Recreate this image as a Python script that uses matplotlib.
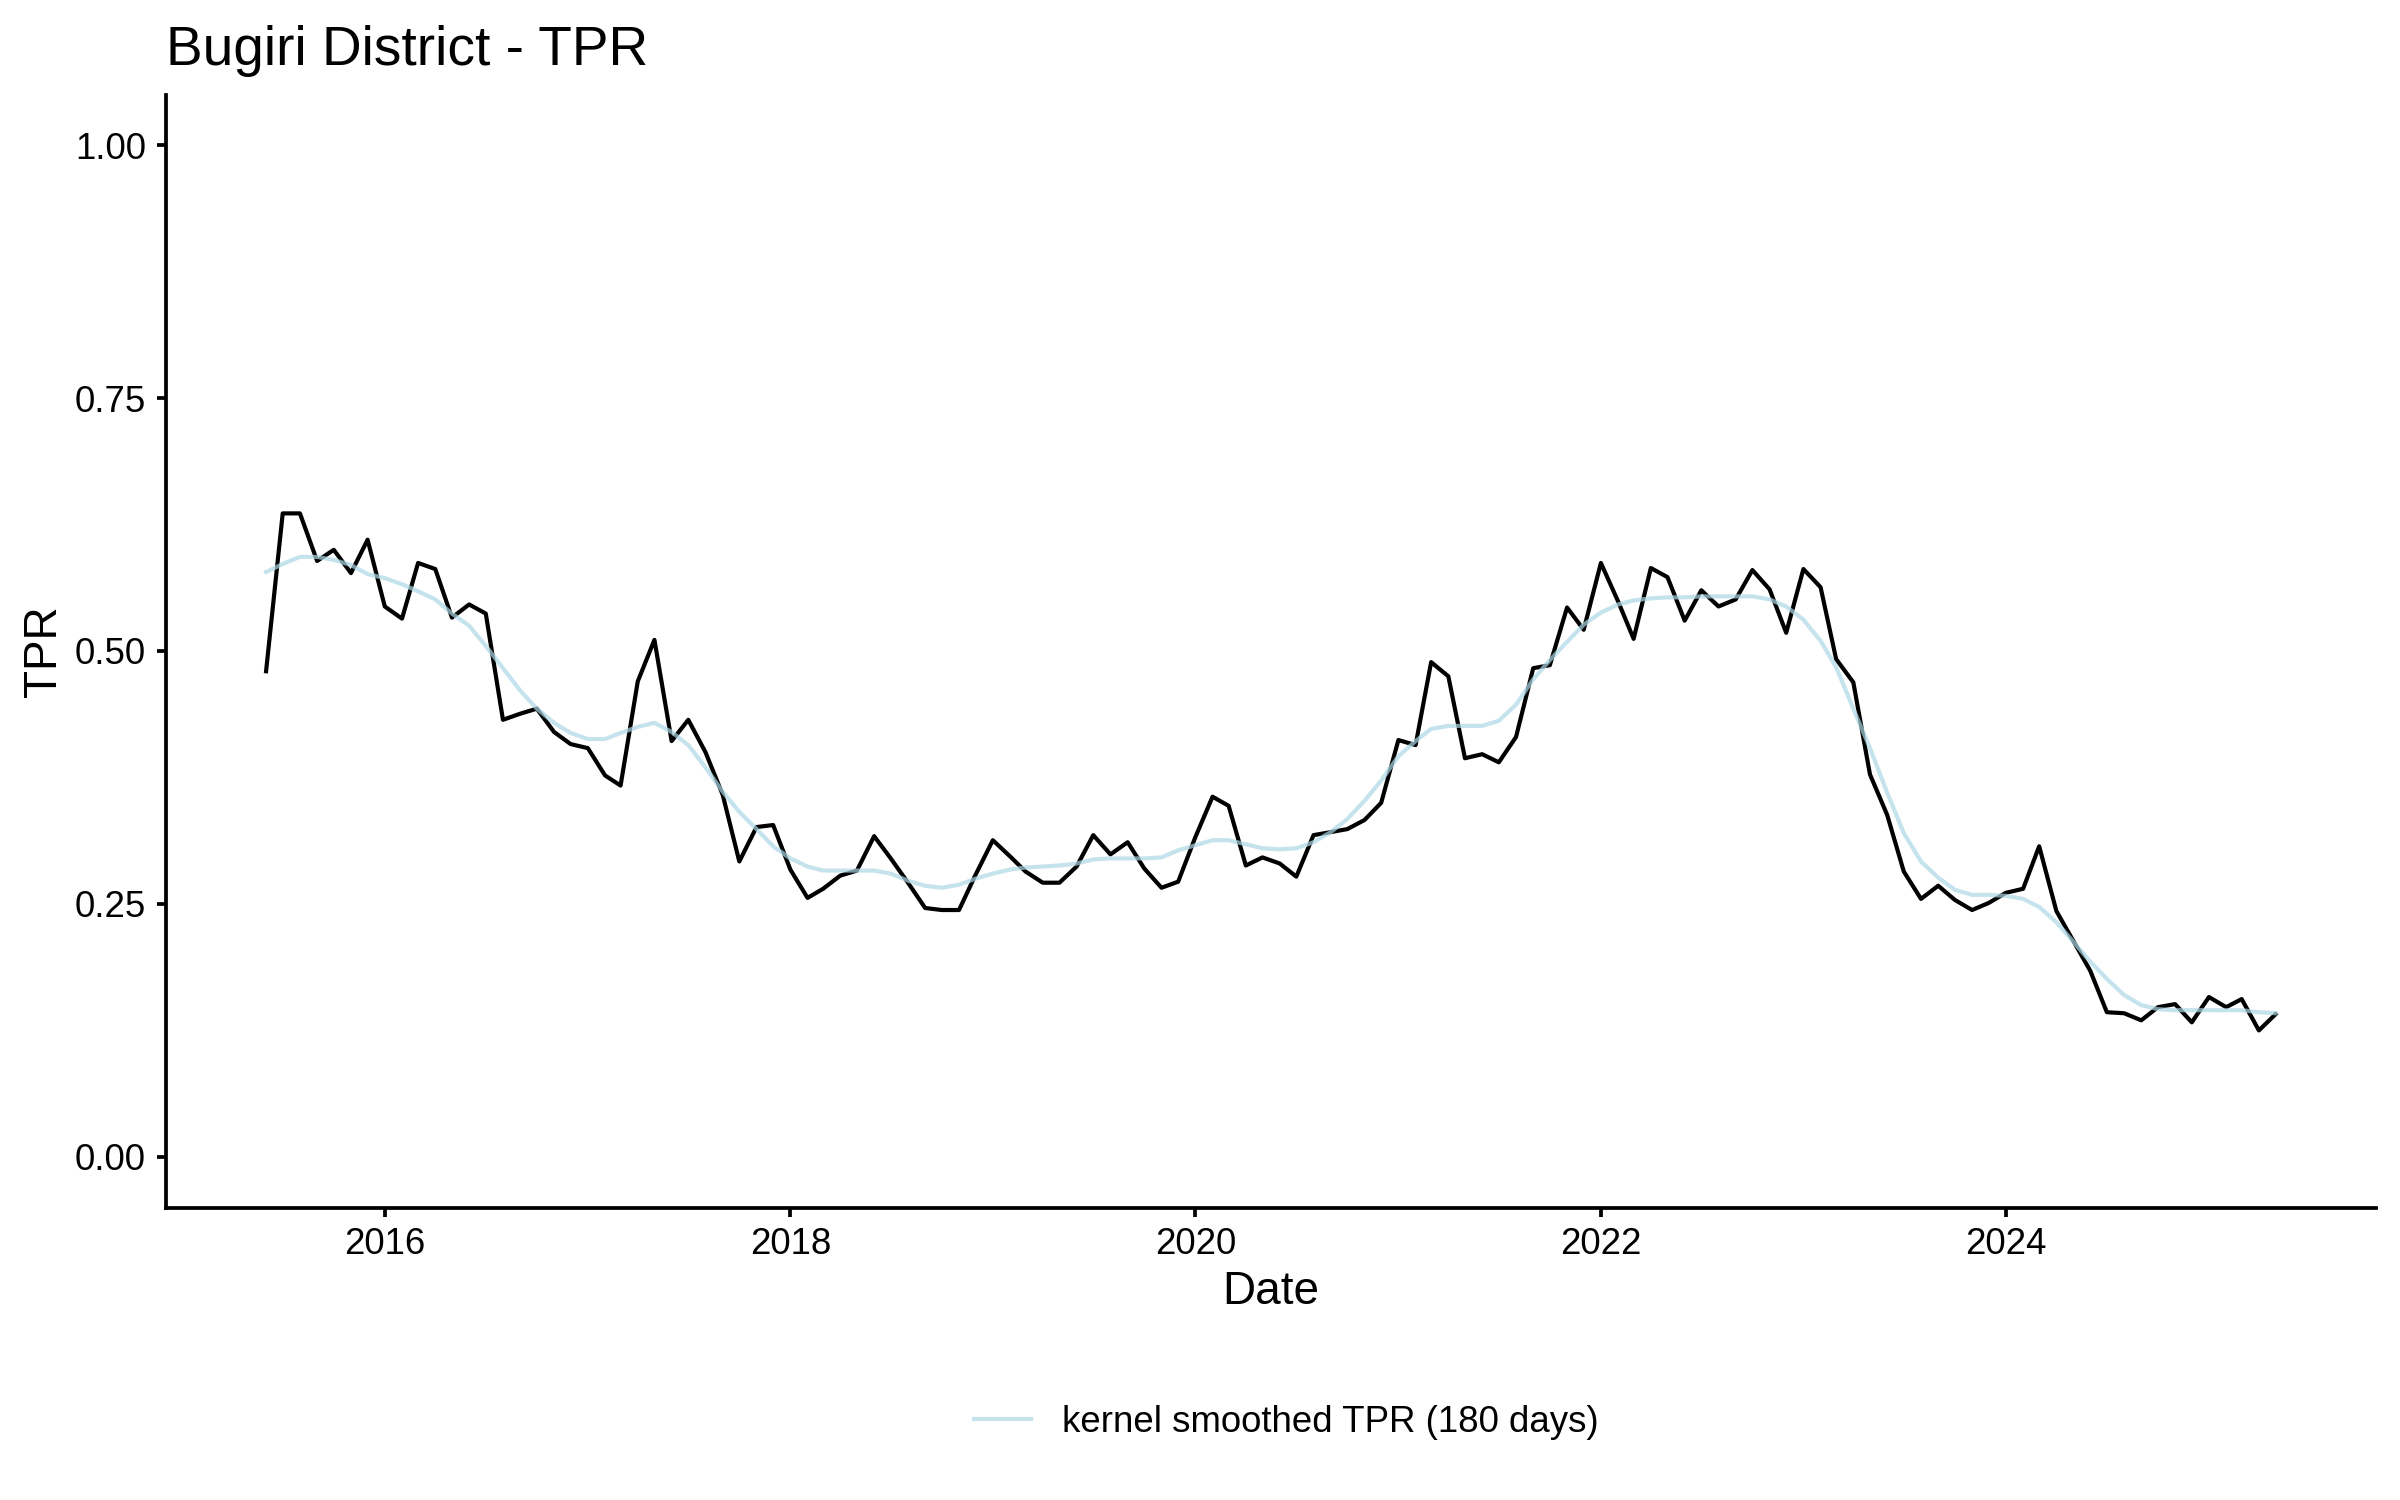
import pandas as pd
import matplotlib
matplotlib.use('Agg')
import matplotlib.pyplot as plt
import matplotlib.dates as mdates

plt.rcParams['font.family'] = ['Liberation Sans', 'DejaVu Sans']
plt.rcParams.update({'font.size': 8.8})

# monthly TPR, Jun 2015 .. May 2025
start_month = '2015-06-01'
tpr = [0.480, 0.636, 0.636, 0.589, 0.600, 0.577, 0.610, 0.544, 0.532, 0.587, 0.581, 0.533,
       0.546, 0.537, 0.432, 0.438, 0.443, 0.420, 0.408, 0.404, 0.377, 0.367, 0.470, 0.511,
       0.411, 0.432, 0.400, 0.358, 0.292, 0.326, 0.328, 0.284, 0.256, 0.265, 0.278, 0.283,
       0.317, 0.295, 0.271, 0.246, 0.244, 0.244, 0.279, 0.313, 0.297, 0.282, 0.271, 0.271,
       0.287, 0.318, 0.299, 0.311, 0.285, 0.266, 0.272, 0.316, 0.356, 0.347, 0.288, 0.296,
       0.290, 0.277, 0.318, 0.321, 0.324, 0.333, 0.350, 0.412, 0.407, 0.489, 0.475, 0.394,
       0.398, 0.390, 0.415, 0.483, 0.486, 0.543, 0.521, 0.587, 0.549, 0.512, 0.582, 0.573,
       0.530, 0.560, 0.544, 0.551, 0.580, 0.561, 0.518, 0.581, 0.563, 0.492, 0.469, 0.378,
       0.338, 0.282, 0.255, 0.268, 0.254, 0.244, 0.251, 0.261, 0.265, 0.307, 0.243, 0.214,
       0.184, 0.143, 0.142, 0.135, 0.148, 0.151, 0.133, 0.158, 0.148, 0.156, 0.125, 0.141]

# kernel smoothed TPR (180 days)
tpr_smooth = [0.578, 0.586, 0.593, 0.593, 0.590, 0.585, 0.576, 0.572, 0.566, 0.559, 0.551, 0.537,
              0.525, 0.505, 0.483, 0.461, 0.443, 0.429, 0.419, 0.413, 0.413, 0.419, 0.425, 0.429,
              0.420, 0.407, 0.385, 0.361, 0.341, 0.324, 0.307, 0.295, 0.287, 0.283, 0.283, 0.283,
              0.283, 0.280, 0.273, 0.268, 0.266, 0.269, 0.275, 0.280, 0.284, 0.286, 0.287, 0.288,
              0.290, 0.294, 0.295, 0.295, 0.295, 0.296, 0.303, 0.308, 0.313, 0.313, 0.309, 0.305,
              0.304, 0.305, 0.311, 0.321, 0.334, 0.352, 0.372, 0.396, 0.411, 0.423, 0.426, 0.426,
              0.426, 0.431, 0.447, 0.472, 0.491, 0.509, 0.526, 0.538, 0.546, 0.550, 0.552, 0.553,
              0.553, 0.554, 0.554, 0.554, 0.554, 0.551, 0.544, 0.531, 0.510, 0.484, 0.443, 0.404,
              0.360, 0.320, 0.292, 0.276, 0.264, 0.259, 0.259, 0.258, 0.255, 0.247, 0.232, 0.213,
              0.193, 0.176, 0.160, 0.150, 0.146, 0.145, 0.145, 0.145, 0.145, 0.145, 0.143, 0.142]

tick_years = [2016, 2018, 2020, 2022, 2024]
y_ticks = [0.0, 0.25, 0.5, 0.75, 1.0]

dates = pd.date_range(start_month, periods=len(tpr), freq='MS')

fig = plt.figure(figsize=(8, 5), dpi=300)
ax = fig.add_axes([0.069, 0.195, 0.921, 0.742])

ax.plot(dates, tpr, color='black', linewidth=1.0, zorder=2)
ax.plot(dates, tpr_smooth, color='lightblue', alpha=0.7, linewidth=1.0, zorder=3,
        label='kernel smoothed TPR (180 days)')

# ggplot style 5% expansion
span = dates[-1] - dates[0]
ax.set_xlim(dates[0] - 0.05 * span, dates[-1] + 0.05 * span)
ax.set_ylim(-0.05, 1.05)

ax.set_xticks([pd.Timestamp(f'{y}-01-01') for y in tick_years])
ax.xaxis.set_major_formatter(mdates.DateFormatter('%Y'))
ax.set_yticks(y_ticks)
ax.set_yticklabels([f'{v:.2f}' for v in y_ticks])

for side in ['top', 'right']:
    ax.spines[side].set_visible(False)
for side in ['left', 'bottom']:
    ax.spines[side].set_linewidth(0.9)
ax.tick_params(axis='both', direction='out', length=2.2, width=0.9, colors='black',
               labelsize=8.8, pad=2.5)

ax.set_xlabel('Date', fontsize=11, labelpad=2)
ax.set_ylabel('TPR', fontsize=11, labelpad=2)
ax.set_title('Bugiri District - TPR', loc='left', fontsize=13.2, pad=7)

fig.legend(loc='center', bbox_to_anchor=(0.536, 0.052), frameon=False, fontsize=8.8,
           handlelength=1.55, handletextpad=0.85)

plt.savefig('out.png', dpi=300)
